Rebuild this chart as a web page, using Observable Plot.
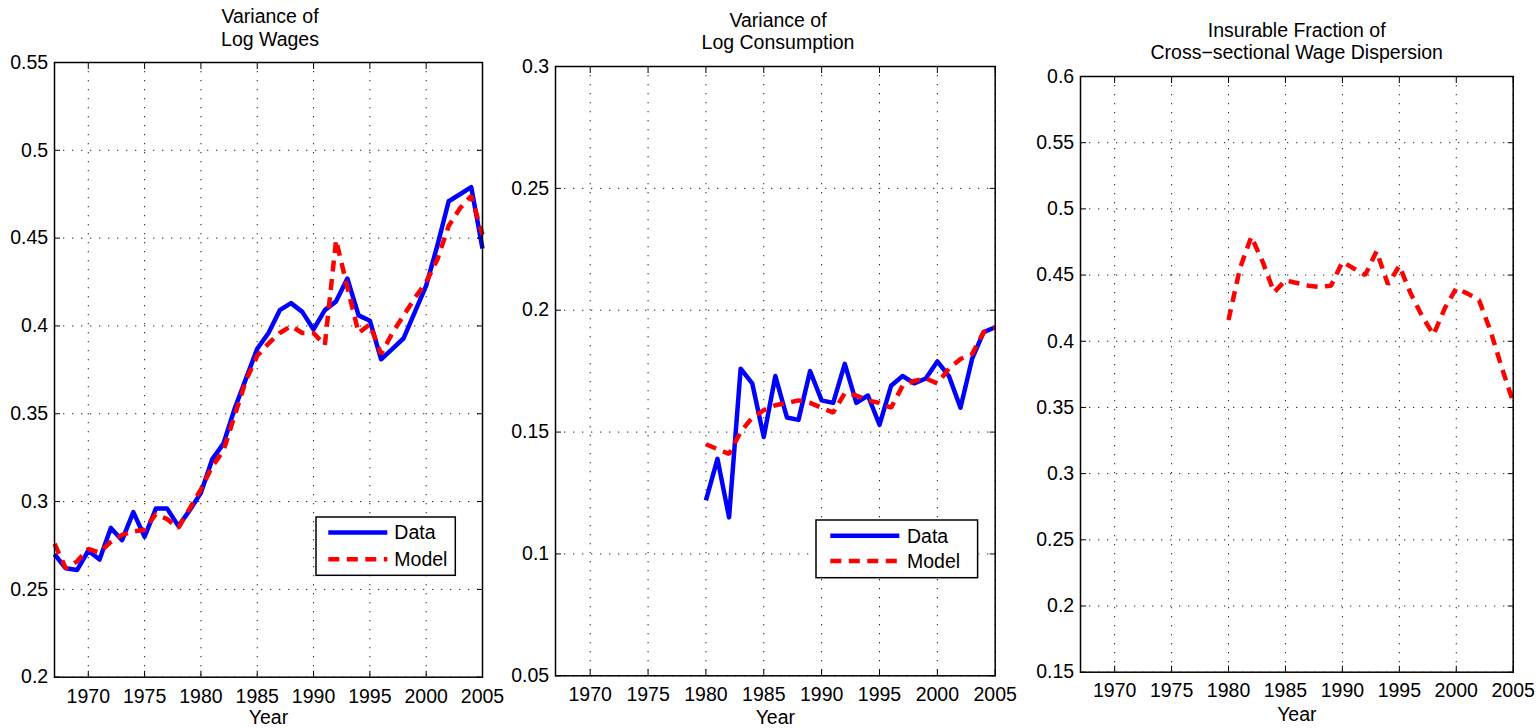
<!DOCTYPE html>
<html><head><meta charset="utf-8">
<script src="https://cdn.jsdelivr.net/npm/d3@7"></script>
<script src="https://cdn.jsdelivr.net/npm/@observablehq/plot@0.6"></script>
<style>
body{margin:0;background:#fff;font-family:"Liberation Sans",Arial,Helvetica,sans-serif;}
#root{position:relative;width:1539px;height:728px;overflow:hidden;background:#fff;}
.panel{position:absolute;top:0;}
.title{position:absolute;text-align:center;font-size:19.5px;line-height:22.6px;color:#000;white-space:nowrap;transform:translateX(-50%);}
.legend{position:absolute;}
</style></head><body><div id="root"></div>
<script>
// ---------- data ----------
const yearsWages = [1967,1968,1969,1970,1971,1972,1973,1974,1975,1976,1977,1978,1979,1980,1981,1982,1983,1984,1985,1986,1987,1988,1989,1990,1991,1992,1993,1994,1995,1996,1997,1998,1999,2000,2001,2002,2003,2004,2005];
const wagesData  = [0.270,0.262,0.261,0.272,0.267,0.285,0.278,0.294,0.280,0.296,0.296,0.286,0.295,0.305,0.324,0.333,0.353,0.370,0.387,0.396,0.409,0.413,0.408,0.398,0.409,0.414,0.427,0.406,0.403,0.381,0.387,0.393,0.408,0.423,0.446,0.471,0.475,0.479,0.444];
const wagesModel = [0.276,0.262,0.266,0.273,0.271,0.277,0.281,0.283,0.284,0.293,0.290,0.285,0.296,0.307,0.320,0.329,0.349,0.369,0.383,0.390,0.396,0.400,0.396,0.396,0.389,0.449,0.422,0.396,0.401,0.384,0.396,0.406,0.416,0.425,0.438,0.457,0.467,0.474,0.452];

const yearsCons = [1980,1981,1982,1983,1984,1985,1986,1987,1988,1989,1990,1991,1992,1993,1994,1995,1996,1997,1998,1999,2000,2001,2002,2003,2004,2005];
const consData  = [0.122,0.139,0.115,0.176,0.170,0.148,0.173,0.156,0.155,0.175,0.163,0.162,0.178,0.162,0.165,0.153,0.169,0.173,0.170,0.172,0.179,0.173,0.160,0.180,0.191,0.193];
const consModel = [0.145,0.143,0.141,0.150,0.156,0.159,0.161,0.162,0.163,0.162,0.160,0.158,0.166,0.165,0.163,0.162,0.160,0.169,0.171,0.172,0.170,0.176,0.180,0.182,0.191,0.193];

const yearsFrac = [1980,1981,1982,1983,1984,1985,1986,1987,1988,1989,1990,1991,1992,1993,1994,1995,1996,1997,1998,1999,2000,2001,2002,2003,2004,2005];
const fracModel = [0.416,0.455,0.479,0.460,0.437,0.446,0.444,0.442,0.441,0.442,0.460,0.455,0.450,0.468,0.443,0.457,0.436,0.419,0.405,0.425,0.440,0.436,0.431,0.408,0.380,0.354];

const xTicks = [1970,1975,1980,1985,1990,1995,2000,2005];
const yTicksWages = [0.2,0.25,0.3,0.35,0.4,0.45,0.5,0.55];
const yTicksCons  = [0.05,0.1,0.15,0.2,0.25,0.3];
const yTicksFrac  = [0.15,0.2,0.25,0.3,0.35,0.4,0.45,0.5,0.55,0.6];

const titles = [["Variance of","Log Wages"],["Variance of","Log Consumption"],["Insurable Fraction of","Cross\u2212sectional Wage Dispersion"]];
const legendLabels = ["Data","Model"];
// ---------------------------

const BLUE = "#0000ff", RED = "#ff0000";
const FONT = "'Liberation Sans', Arial, Helvetica, sans-serif";
const DASH = "11,7.5";

function rows(years, vals){ return years.map((y,i)=>({year:y, v:vals[i]})); }

function panel(o){
  const marks = [
    Plot.gridX(o.xTicks, {stroke:"#222", strokeOpacity:1, strokeWidth:1, strokeDasharray:"1.3,7.7"}),
    Plot.gridY(o.yTicks, {stroke:"#222", strokeOpacity:1, strokeWidth:1, strokeDasharray:"1.3,7.7"}),
  ];
  for (const s of o.series) {
    marks.push(Plot.line(rows(s.years, s.vals), {x:"year", y:"v", stroke:s.color, strokeWidth:4.5,
      strokeDasharray:s.dash || null, strokeLinecap:"butt", strokeLinejoin:s.dash ? "miter" : "round"}));
  }
  marks.push(
    Plot.axisX(o.xTicks, {anchor:"bottom", tickSize:0, tickPadding:o.xPad, tickFormat:d=>String(d), label:null, fontSize:19.5}),
    Plot.axisY(o.yTicks, {anchor:"left", tickSize:0, tickPadding:6.3, tickFormat:d=>String(d), label:null, fontSize:19.5}),
    Plot.axisX(o.xTicks, {anchor:"bottom", tickSize:6, dy:-6, tickFormat:()=>"", label:null, stroke:"#000"}),
    Plot.axisX(o.xTicks, {anchor:"top", tickSize:6, dy:6, tickFormat:()=>"", label:null, stroke:"#000"}),
    Plot.axisY(o.yTicks, {anchor:"left", tickSize:6, dx:6, tickFormat:()=>"", label:null, stroke:"#000"}),
    Plot.axisY(o.yTicks, {anchor:"right", tickSize:6, dx:-6, tickFormat:()=>"", label:null, stroke:"#000"}),
    Plot.text(["Year"], {frameAnchor:"bottom", lineAnchor:"top", dy:o.yearDy, fontSize:19.5, fill:"#000"}),
    Plot.frame({stroke:"#000", strokeWidth:1.5})
  );
  const svg = Plot.plot({
    width:o.width, height:728,
    marginLeft:o.ml, marginRight:o.mr, marginTop:o.mt, marginBottom:o.mb,
    x:{domain:[1967,2005]},
    y:{domain:o.yDomain},
    style:{fontFamily:FONT, fontSize:"19.5px", color:"#000", background:"transparent", overflow:"visible"},
    marks
  });
  svg.classList.add("panel");
  svg.style.left = o.left + "px";
  svg.style.position = "absolute";
  svg.style.top = "0px";
  return svg;
}

function legend(left, top, w, h, x1, x2, yD, yM, tx){
  const svg = d3.create("svg").attr("width", w+4).attr("height", h+4)
    .attr("class","legend").style("left",(left-2)+"px").style("top",(top-2)+"px").style("position","absolute").style("overflow","visible");
  const g = svg.append("g").attr("transform","translate(2,2)");
  g.append("rect").attr("width",w).attr("height",h).attr("fill","#fff").attr("stroke","#000").attr("stroke-width",1.5);
  g.append("line").attr("x1",x1).attr("x2",x2).attr("y1",yD).attr("y2",yD).attr("stroke",BLUE).attr("stroke-width",4.5);
  g.append("line").attr("x1",x1).attr("x2",x2).attr("y1",yM).attr("y2",yM).attr("stroke",RED).attr("stroke-width",4.5).attr("stroke-dasharray",DASH);
  g.append("text").attr("x",tx).attr("y",yD).attr("dy","0.35em").attr("font-size","19.5px").attr("font-family",FONT).text(legendLabels[0]);
  g.append("text").attr("x",tx).attr("y",yM).attr("dy","0.35em").attr("font-size","19.5px").attr("font-family",FONT).text(legendLabels[1]);
  return svg.node();
}

const root = document.getElementById("root");

root.appendChild(panel({left:0, width:500, ml:54, mr:18, mt:62, mb:51.3, xPad:11.6, yearDy:33.3,
  yDomain:[0.2,0.55], yTicks:yTicksWages, xTicks,
  series:[{years:yearsWages, vals:wagesData, color:BLUE},{years:yearsWages, vals:wagesModel, color:RED, dash:DASH}]}));
root.appendChild(panel({left:500, width:520, ml:55, mr:25.3, mt:66, mb:52.7, xPad:11.4, yearDy:34.7,
  yDomain:[0.05,0.3], yTicks:yTicksCons, xTicks,
  series:[{years:yearsCons, vals:consData, color:BLUE},{years:yearsCons, vals:consModel, color:RED, dash:DASH}]}));
root.appendChild(panel({left:1020, width:519, ml:60, mr:26.3, mt:76, mb:56.3, xPad:11, yearDy:35,
  yDomain:[0.15,0.6], yTicks:yTicksFrac, xTicks,
  series:[{years:yearsFrac, vals:fracModel, color:RED, dash:DASH}]}));

root.appendChild(legend(315.7, 516.7, 139.3, 58.3, 12.3, 71.3, 15.6, 42.3, 78.3));
root.appendChild(legend(815.7, 520, 161.6, 57.7, 14.3, 83.3, 15.7, 41, 91));

const titlePos = [[270, 5.2],[778, 8.6],[1296.7, 18.6]];
titles.forEach((t,i)=>{
  const d = document.createElement("div");
  d.className = "title";
  d.style.left = titlePos[i][0] + "px";
  d.style.top = titlePos[i][1] + "px";
  d.innerHTML = t.join("<br>");
  root.appendChild(d);
});
</script></body></html>
